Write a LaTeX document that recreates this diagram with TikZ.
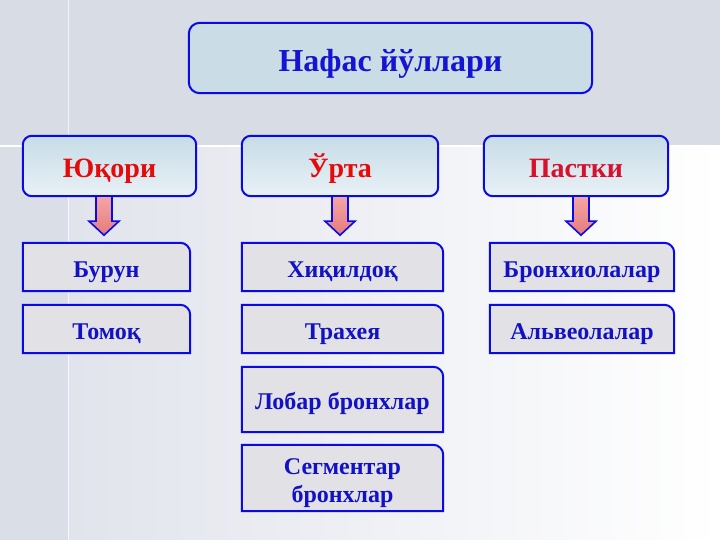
\documentclass[tikz,border=0pt]{standalone}
\usepackage{fontspec}
\setmainfont{Liberation Serif}
\pgfdeclarelayer{bg}
\pgfdeclarelayer{boxes}
\pgfsetlayers{bg,boxes,main}
\definecolor{bandgrey}{HTML}{D8DCE5}
\definecolor{lowleft}{HTML}{DEE1EA}
\definecolor{stripgrey}{HTML}{DADEE7}
\definecolor{edgeblue}{HTML}{0A0AE6}
\definecolor{titleblue}{HTML}{1414D2}
\definecolor{textblue}{HTML}{1212C4}
\definecolor{midred}{HTML}{E60A0A}
\definecolor{pastred}{HTML}{D8102E}
\definecolor{titlefill}{HTML}{C8DCE6}
\definecolor{midtop}{HTML}{C7DCE7}
\definecolor{midbot}{HTML}{E8F1F6}
\definecolor{lowfill}{HTML}{E1E1E6}
\definecolor{pinktop}{HTML}{F3A6A6}
\definecolor{pinkbot}{HTML}{E87A7A}
\tikzset{
  txtnode/.style={inner sep=0pt, align=center, font=\bfseries},
  titlebox/.style={txtnode, minimum width=403pt, minimum height=70pt, text height=28pt, text depth=0pt, text=titleblue, font=\bfseries\fontsize{32}{36}\selectfont},
  midbox/.style={txtnode, minimum height=60pt, text height=24pt, text depth=0pt, font=\bfseries\fontsize{28}{32}\selectfont},
  lowbox/.style={txtnode, minimum height=48pt, text height=20pt, text depth=0pt, text=textblue, font=\bfseries\fontsize{24}{28}\selectfont},
  boxedge/.style={draw=edgeblue, line width=2pt},
  barrow/.style={draw=edgeblue, line width=1.6pt, line join=miter, top color=pinktop, bottom color=pinkbot},
}
\newcommand{\lowshape}[1]{%
  \path[boxedge, fill=lowfill] (#1.south west) -- (#1.north west) -- ([xshift=-10pt]#1.north east) arc[start angle=90, end angle=0, radius=10pt] -- (#1.south east) -- cycle;}
\newcommand{\blockarrow}[1]{%
  \path[barrow] (#1) ++(-8,0) -- ++(0,25) -- ++(-7,0) -- ++(15,14) -- ++(15,-14) -- ++(-7,0) -- ++(0,-25) -- cycle;}
\begin{document}
\begin{tikzpicture}[x=1pt, y=-1pt]
\useasboundingbox (0,0) rectangle (720,540);
% background
\begin{pgfonlayer}{bg}
  \fill[left color=lowleft, right color=white] (0,146) rectangle (720,540);
  \fill[stripgrey] (0,146) rectangle (68,540);
  \fill[bandgrey] (0,0) rectangle (720,146);
  \draw[white, line width=1.5pt] (0,146) -- (720,146);
  \draw[white, opacity=0.7, line width=0.8pt] (68,0) -- (68,540);
\end{pgfonlayer}
% nodes
\node[titlebox] (title) at (390.5,58) {Нафас йўллари};
\node[midbox, minimum width=173pt, text=midred] (yuq) at (109.5,166) {Юқори};
\node[midbox, minimum width=196pt, text=midred] (urta) at (340,166) {Ўрта};
\node[midbox, minimum width=184pt, text=pastred] (past) at (576,166) {Пастки};
\node[lowbox, minimum width=167pt] (burun) at (106.5,267) {Бурун};
\node[lowbox, minimum width=167pt] (tomoq) at (106.5,329) {Томоқ};
\node[lowbox, minimum width=201pt] (hiq) at (342.5,267) {Хиқилдоқ};
\node[lowbox, minimum width=201pt] (trax) at (342.5,329) {Трахея};
\node[lowbox, minimum width=201pt, minimum height=65pt] (lobar) at (342.5,399.5) {Лобар бронхлар};
\node[txtnode, minimum width=201pt, minimum height=66pt] (segm) at (342.5,478) {};
\node[txtnode, text=textblue, font=\bfseries\fontsize{24}{28}\selectfont] (segmtxt) at ([yshift=-5pt]segm.center) {Сегментар\\бронхлар};
\node[lowbox, minimum width=184pt] (bronx) at (582,267) {Бронхиолалар};
\node[lowbox, minimum width=184pt] (alv) at (582,329) {Альвеолалар};
% box shapes
\begin{pgfonlayer}{boxes}
  \path[boxedge, fill=titlefill, fill opacity=0.85, draw opacity=1, rounded corners=11pt] (title.south west) rectangle (title.north east);
  \foreach \m in {yuq,urta,past}{
    \path[boxedge, top color=midtop, bottom color=midbot, rounded corners=9pt] (\m.south west) rectangle (\m.north east);
  }
  \foreach \l in {burun,tomoq,hiq,trax,lobar,segm,bronx,alv}{\lowshape{\l}}
\end{pgfonlayer}
% arrows
\coordinate (a1) at ([xshift=-5.5pt]yuq.south);
\coordinate (a2) at (urta.south);
\coordinate (a3) at ([xshift=5pt]past.south);
\blockarrow{a1}
\blockarrow{a2}
\blockarrow{a3}
\end{tikzpicture}
\end{document}
